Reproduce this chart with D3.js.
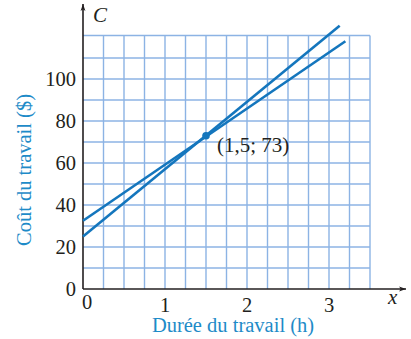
<!DOCTYPE html>
<html>
<head>
<meta charset="utf-8">
<script src="https://cdn.jsdelivr.net/npm/d3@7"></script>
<style>
  body { margin: 0; background: #fff; }
  svg { display: block; font-family: "Liberation Serif", "Times New Roman", serif; }
</style>
</head>
<body>
<svg id="chart" width="411" height="339"></svg>
<script>
// donnees
const yTicks = [0, 20, 40, 60, 80, 100];
const xTicks = [0, 1, 2, 3];
const lineA = [{ x: 0, c: 32.5 }, { x: 3.2, c: 118 }];
const lineB = [{ x: 0, c: 25 }, { x: 3.13, c: 125.3 }];
const point = { x: 1.5, c: 73, label: '(1,5; 73)' };

const blue = '#1476bd';
const gridColor = '#8cb3e4';
const textBlue = '#1e8bc8';
const ink = '#231f20';

const svg = d3.select('#chart');

const x = d3.scaleLinear().domain([0, 3.5]).range([83, 370]);
const y = d3.scaleLinear().domain([0, 120]).range([289, 37]);

// quadrillage
const g = svg.append('g');
g.selectAll('line.v')
    .data(d3.range(1, 15).map(i => i * 0.25))
    .join('line')
    .attr('x1', d => x(d)).attr('x2', d => x(d))
    .attr('y1', y(0)).attr('y2', y(120) - 1.5)
    .attr('stroke', gridColor).attr('stroke-width', 1.4);
g.selectAll('line.h')
    .data(d3.range(1, 13).map(i => i * 10))
    .join('line')
    .attr('x1', x(0)).attr('x2', x(3.5))
    .attr('y1', d => y(d) - (d === 120 ? 1.5 : 0)).attr('y2', d => y(d) - (d === 120 ? 1.5 : 0))
    .attr('stroke', gridColor).attr('stroke-width', 1.4);

// axes avec fleches
svg.append('defs').append('marker')
    .attr('id', 'arrow')
    .attr('viewBox', '0 0 10 10')
    .attr('refX', 10).attr('refY', 5)
    .attr('markerWidth', 7).attr('markerHeight', 7)
    .attr('markerUnits', 'userSpaceOnUse')
    .attr('orient', 'auto')
    .append('path')
    .attr('d', 'M0,1.5 L10,5 L0,8.5 L2.5,5 Z')
    .attr('fill', ink);

svg.append('line')
    .attr('x1', x(0)).attr('x2', 406)
    .attr('y1', y(0)).attr('y2', y(0))
    .attr('stroke', ink).attr('stroke-width', 1.6)
    .attr('marker-end', 'url(#arrow)');
svg.append('line')
    .attr('x1', x(0)).attr('x2', x(0))
    .attr('y1', y(0)).attr('y2', 4)
    .attr('stroke', ink).attr('stroke-width', 1.6)
    .attr('marker-end', 'url(#arrow)');

// etiquettes des graduations
svg.selectAll('text.ytick')
    .data(yTicks)
    .join('text')
    .attr('x', 76).attr('y', d => y(d) + 7)
    .attr('text-anchor', 'end')
    .attr('font-size', 20.5).attr('fill', ink)
    .text(d => d);
svg.selectAll('text.xtick')
    .data(xTicks)
    .join('text')
    .attr('x', d => x(d) + (d === 0 ? 4 : 0)).attr('y', d => d === 0 ? 309 : 312)
    .attr('text-anchor', 'middle')
    .attr('font-size', 20.5).attr('fill', ink)
    .text(d => d);

// droites
const line = d3.line().x(d => x(d.x)).y(d => y(d.c));
[lineA, lineB].forEach(data => {
    svg.append('path')
        .attr('d', line(data))
        .attr('fill', 'none')
        .attr('stroke', blue)
        .attr('stroke-width', 2.6);
});

svg.append('circle')
    .attr('cx', x(point.x)).attr('cy', y(point.c))
    .attr('r', 3.8).attr('fill', blue);
svg.append('text')
    .attr('x', x(point.x) + 11).attr('y', y(point.c) + 16)
    .attr('font-size', 21).attr('fill', ink)
    .text(point.label);

// titres des axes
svg.append('text')
    .attr('x', 233).attr('y', 332)
    .attr('text-anchor', 'middle')
    .attr('font-size', 20.5).attr('fill', textBlue)
    .text('Durée du travail (h)');
svg.append('text')
    .attr('transform', 'translate(31,170) rotate(-90)')
    .attr('text-anchor', 'middle')
    .attr('font-size', 20.5).attr('fill', textBlue)
    .text('Coût du travail ($)');

svg.append('text')
    .attr('x', 93).attr('y', 22)
    .attr('font-size', 21).attr('font-style', 'italic').attr('fill', ink)
    .text('C');
svg.append('text')
    .attr('x', 388).attr('y', 304)
    .attr('font-size', 21).attr('font-style', 'italic').attr('fill', ink)
    .text('x');
</script>
</body>
</html>
